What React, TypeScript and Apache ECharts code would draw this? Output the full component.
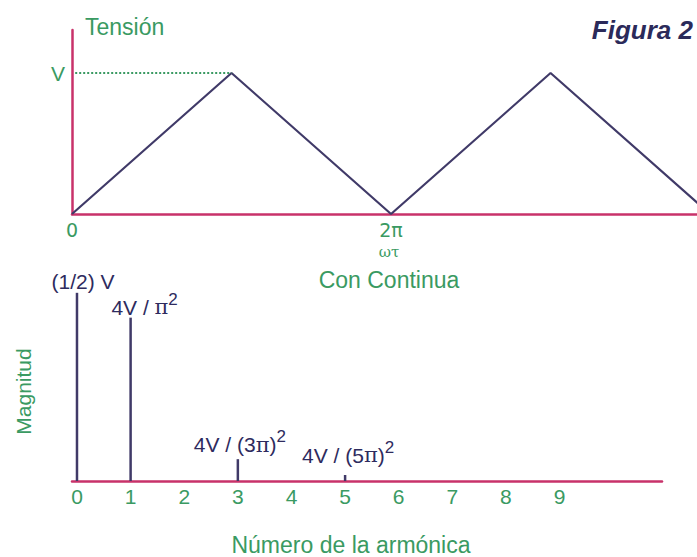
import React, { useEffect, useRef } from "react";
import * as echarts from "echarts";

// Top chart: triangular wave (x in units of π, y in units of V)
const waveX = [0, 1, 2, 3, 4];
const waveY = [0, 1, 0, 1, 0];
const waveXTicks = [0, 2];
const waveXTickLabels = ["0", "2π"];

// Bottom chart: harmonic spectrum
const harmonics = [0, 1, 3, 5];
const magnitudes = [0.5, 0.434, 0.058, 0.016];
const harmonicTicks = [0, 1, 2, 3, 4, 5, 6, 7, 8, 9];
const magnitudeLabels = [
  "{a|(1/2) V}",
  "{a|4V / }{p|π}{s|2}",
  "{a|4V / (3}{p|π}{a|)}{s|2}",
  "{a|4V / (5}{p|π}{a|)}{s|2}",
];
const labelOffsets = [
  [6, 3],
  [14, 4],
  [2, 0],
  [3, -5],
];

const GREEN = "#3a9a62";
const AXIS = "#c8326a";
const LINE = "#403a68";
const NAVY = "#2e2b5e";
const FONT = "Liberation Sans";

export default function App() {
  const ref = useRef<HTMLDivElement>(null);
  useEffect(() => {
    if (!ref.current) return;
    const chart = echarts.init(ref.current, null, { renderer: "svg" });
    const rich = {
      a: { fontSize: 21, color: NAVY, fontFamily: FONT, lineHeight: 27, verticalAlign: "bottom" },
      p: { fontSize: 21, color: NAVY, fontFamily: "DejaVu Serif", lineHeight: 27, verticalAlign: "bottom" },
      s: { fontSize: 17, color: NAVY, fontFamily: FONT, lineHeight: 16, verticalAlign: "top" },
    };
    chart.setOption({
      animation: false,
      textStyle: { fontFamily: FONT },
      grid: [
        { left: 72, top: 30, right: 0, height: 184 },
        { left: 72, top: 274, right: 35, bottom: 74 },
      ],
      xAxis: [
        {
          type: "value",
          gridIndex: 0,
          min: 0,
          max: 3.918,
          axisLine: { show: true, lineStyle: { color: AXIS, width: 2.5 } },
          axisTick: { show: false },
          splitLine: { show: false },
          axisLabel: {
            customValues: waveXTicks,
            formatter: (v: number) => {
              const i = waveXTicks.findIndex((t) => Math.abs(t - v) < 1e-6);
              return i >= 0 ? waveXTickLabels[i] : "";
            },
            color: GREEN,
            fontSize: 19,
            lineHeight: 19,
            fontFamily: "DejaVu Sans",
            margin: 6,
          },
          name: "ωτ",
          nameLocation: "middle",
          nameGap: 30,
          nameTextStyle: { color: GREEN, fontSize: 15, lineHeight: 16, fontFamily: "DejaVu Serif", padding: [0, 0, 0, 9] },
        },
        {
          type: "value",
          gridIndex: 1,
          min: -0.093,
          max: 10.91,
          axisLine: { show: true, lineStyle: { color: AXIS, width: 2.5 } },
          axisTick: { show: false },
          splitLine: { show: false },
          axisLabel: {
            customValues: harmonicTicks,
            formatter: (v: number) => String(Math.round(v)),
            color: GREEN,
            fontSize: 21,
            margin: 5,
          },
          name: "Número de la armónica",
          nameLocation: "middle",
          nameGap: 52,
          nameTextStyle: { color: GREEN, fontSize: 23, padding: [0, 32, 0, 0] },
        },
      ],
      yAxis: [
        {
          type: "value",
          gridIndex: 0,
          min: 0,
          max: 1.305,
          axisLine: { show: true, lineStyle: { color: AXIS, width: 2.5 } },
          axisTick: { show: false },
          splitLine: { show: false },
          axisLabel: {
            customValues: [1],
            formatter: () => "V",
            color: GREEN,
            fontSize: 21,
            margin: 7,
          },
          name: "Tensión",
          nameLocation: "end",
          nameGap: 3,
          nameTextStyle: {
            color: GREEN,
            fontSize: 23,
            align: "left",
            verticalAlign: "middle",
            padding: [0, 0, 0, 13],
          },
        },
        {
          type: "value",
          gridIndex: 1,
          min: 0,
          max: 0.55,
          axisLine: { show: false },
          axisTick: { show: false },
          splitLine: { show: false },
          axisLabel: { show: false },
          name: "Magnitud",
          nameLocation: "middle",
          nameRotate: 90,
          nameGap: 38,
          nameTextStyle: { color: GREEN, fontSize: 21, padding: [0, 28, 0, 0] },
        },
      ],
      graphic: [
        {
          type: "text",
          x: 389,
          y: 280,
          style: {
            text: "Con Continua",
            align: "center",
            verticalAlign: "middle",
            fill: GREEN,
            font: `23px "${FONT}"`,
          },
        },
        {
          type: "text",
          x: 693,
          y: 30,
          style: {
            text: "Figura 2",
            align: "right",
            verticalAlign: "middle",
            fill: "#2b2a5a",
            font: `italic bold 26px "${FONT}"`,
          },
        },
      ],
      series: [
        {
          type: "line",
          xAxisIndex: 0,
          yAxisIndex: 0,
          data: waveX.map((x, i) => [x, waveY[i]]),
          showSymbol: false,
          clip: true,
          lineStyle: { color: LINE, width: 2.2 },
          markLine: {
            silent: true,
            symbol: "none",
            label: { show: false },
            lineStyle: { color: GREEN, type: "dotted", width: 2 },
            data: [[{ coord: [0.02, 1] }, { coord: [1, 1] }]],
          },
        },
        {
          type: "bar",
          xAxisIndex: 1,
          yAxisIndex: 1,
          barWidth: 2.5,
          itemStyle: { color: LINE },
          data: harmonics.map((h, i) => ({
            value: [h, magnitudes[i]],
            label: {
              show: true,
              position: "top",
              distance: 4,
              offset: labelOffsets[i],
              formatter: magnitudeLabels[i],
              rich,
            },
          })),
        },
      ],
    });
    return () => chart.dispose();
  }, []);
  return <div ref={ref} style={{ width: 697, height: 557, position: "absolute", left: 0, top: 0 }} />;
}
